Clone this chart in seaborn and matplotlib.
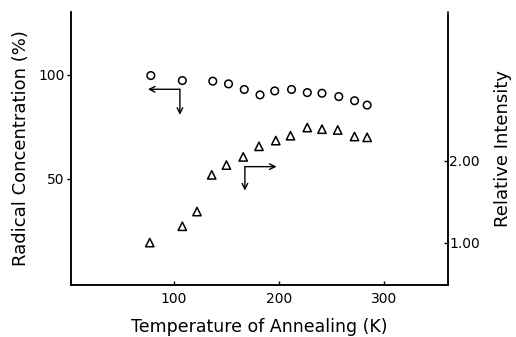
import matplotlib
matplotlib.use("Agg")
import matplotlib.pyplot as plt
import seaborn as sns
import pandas as pd

# Radical concentration (%) - left axis, open circles
temp_circle = [78, 108, 137, 152, 167, 182, 196, 212, 227, 241, 257, 272, 284]
radical_conc = [99.7, 97.3, 97.0, 95.7, 93.0, 90.4, 92.3, 93.0, 91.5, 91.2, 89.6, 87.6, 85.5]

# Relative intensity - right axis, open triangles
temp_tri = [77, 108, 122, 136, 150, 166, 181, 197, 211, 227, 241, 256, 272, 284]
rel_intensity = [1.00, 1.20, 1.38, 1.83, 1.95, 2.05, 2.18, 2.25, 2.31, 2.41, 2.39, 2.38, 2.30, 2.29]

x_ticks = [100, 200, 300]
left_ticks = [50, 100]
right_ticks = [1.0, 2.0]
right_ticklabels = ["1.00", "2.00"]

sns.set_style("white")
plt.rcParams["font.family"] = ["DejaVu Sans"]
plt.rcParams["text.color"] = "black"
plt.rcParams["axes.labelcolor"] = "black"
plt.rcParams["xtick.color"] = "black"
plt.rcParams["ytick.color"] = "black"

fig = plt.figure(figsize=(5.16, 3.37), dpi=100)
ax = fig.add_axes([71/516, 1-285/337, (448-71)/516, (285-11.7)/337])
ax2 = ax.twinx()

df_c = pd.DataFrame({"T": temp_circle, "R": radical_conc})
df_t = pd.DataFrame({"T": temp_tri, "I": rel_intensity})

sns.scatterplot(data=df_c, x="T", y="R", ax=ax, marker="o", s=30,
                facecolor="none", edgecolor="black", linewidth=1.1, legend=False)
sns.scatterplot(data=df_t, x="T", y="I", ax=ax2, marker="^", s=36,
                facecolor="none", edgecolor="black", linewidth=1.1, legend=False)

ax.set_xlim(2, 361)
ax.set_ylim(-1, 130.4)
ax2.set_ylim(0.48, 3.83)

for a in (ax, ax2):
    for s in a.spines.values():
        s.set_linewidth(1.1)
        s.set_color("black")
    a.spines["top"].set_visible(False)
ax2.spines["right"].set_bounds(0.48, 3.79)

ax.set_xticks(x_ticks)
ax.set_xticklabels([str(t) for t in x_ticks], fontsize=10)
ax.set_yticks(left_ticks)
ax.set_yticklabels([str(t) for t in left_ticks], fontsize=10)
ax2.set_yticks(right_ticks)
ax2.set_yticklabels(right_ticklabels, fontsize=10)

ax.tick_params(axis="x", direction="in", length=3, width=1, pad=5, bottom=True)
ax.tick_params(axis="y", direction="out", length=3, width=1, pad=1.5, left=True)
ax2.tick_params(axis="y", direction="in", length=3, width=1, pad=1, right=True)

ax.set_xlabel("Temperature of Annealing (K)", fontsize=12.5, labelpad=9)
ax.set_ylabel("Radical Concentration (%)", fontsize=13, labelpad=6)
ax2.set_ylabel("Relative Intensity", fontsize=13, labelpad=10)

# Annotation arrows indicating which axis each series belongs to
arrow_kw = dict(arrowstyle="->", color="black", lw=1.0, shrinkA=0, shrinkB=0)
# circles -> left axis
ax.annotate("", xy=(75.2, 93.1), xytext=(105.7, 93.1), arrowprops=arrow_kw)
ax.annotate("", xy=(105.7, 80.8), xytext=(105.7, 93.1), arrowprops=arrow_kw)
# triangles -> right axis
ax.annotate("", xy=(197.8, 55.9), xytext=(167.6, 55.9), arrowprops=arrow_kw)
ax.annotate("", xy=(167.6, 44.4), xytext=(167.6, 55.9), arrowprops=arrow_kw)

fig.savefig("out.png", dpi=100)
